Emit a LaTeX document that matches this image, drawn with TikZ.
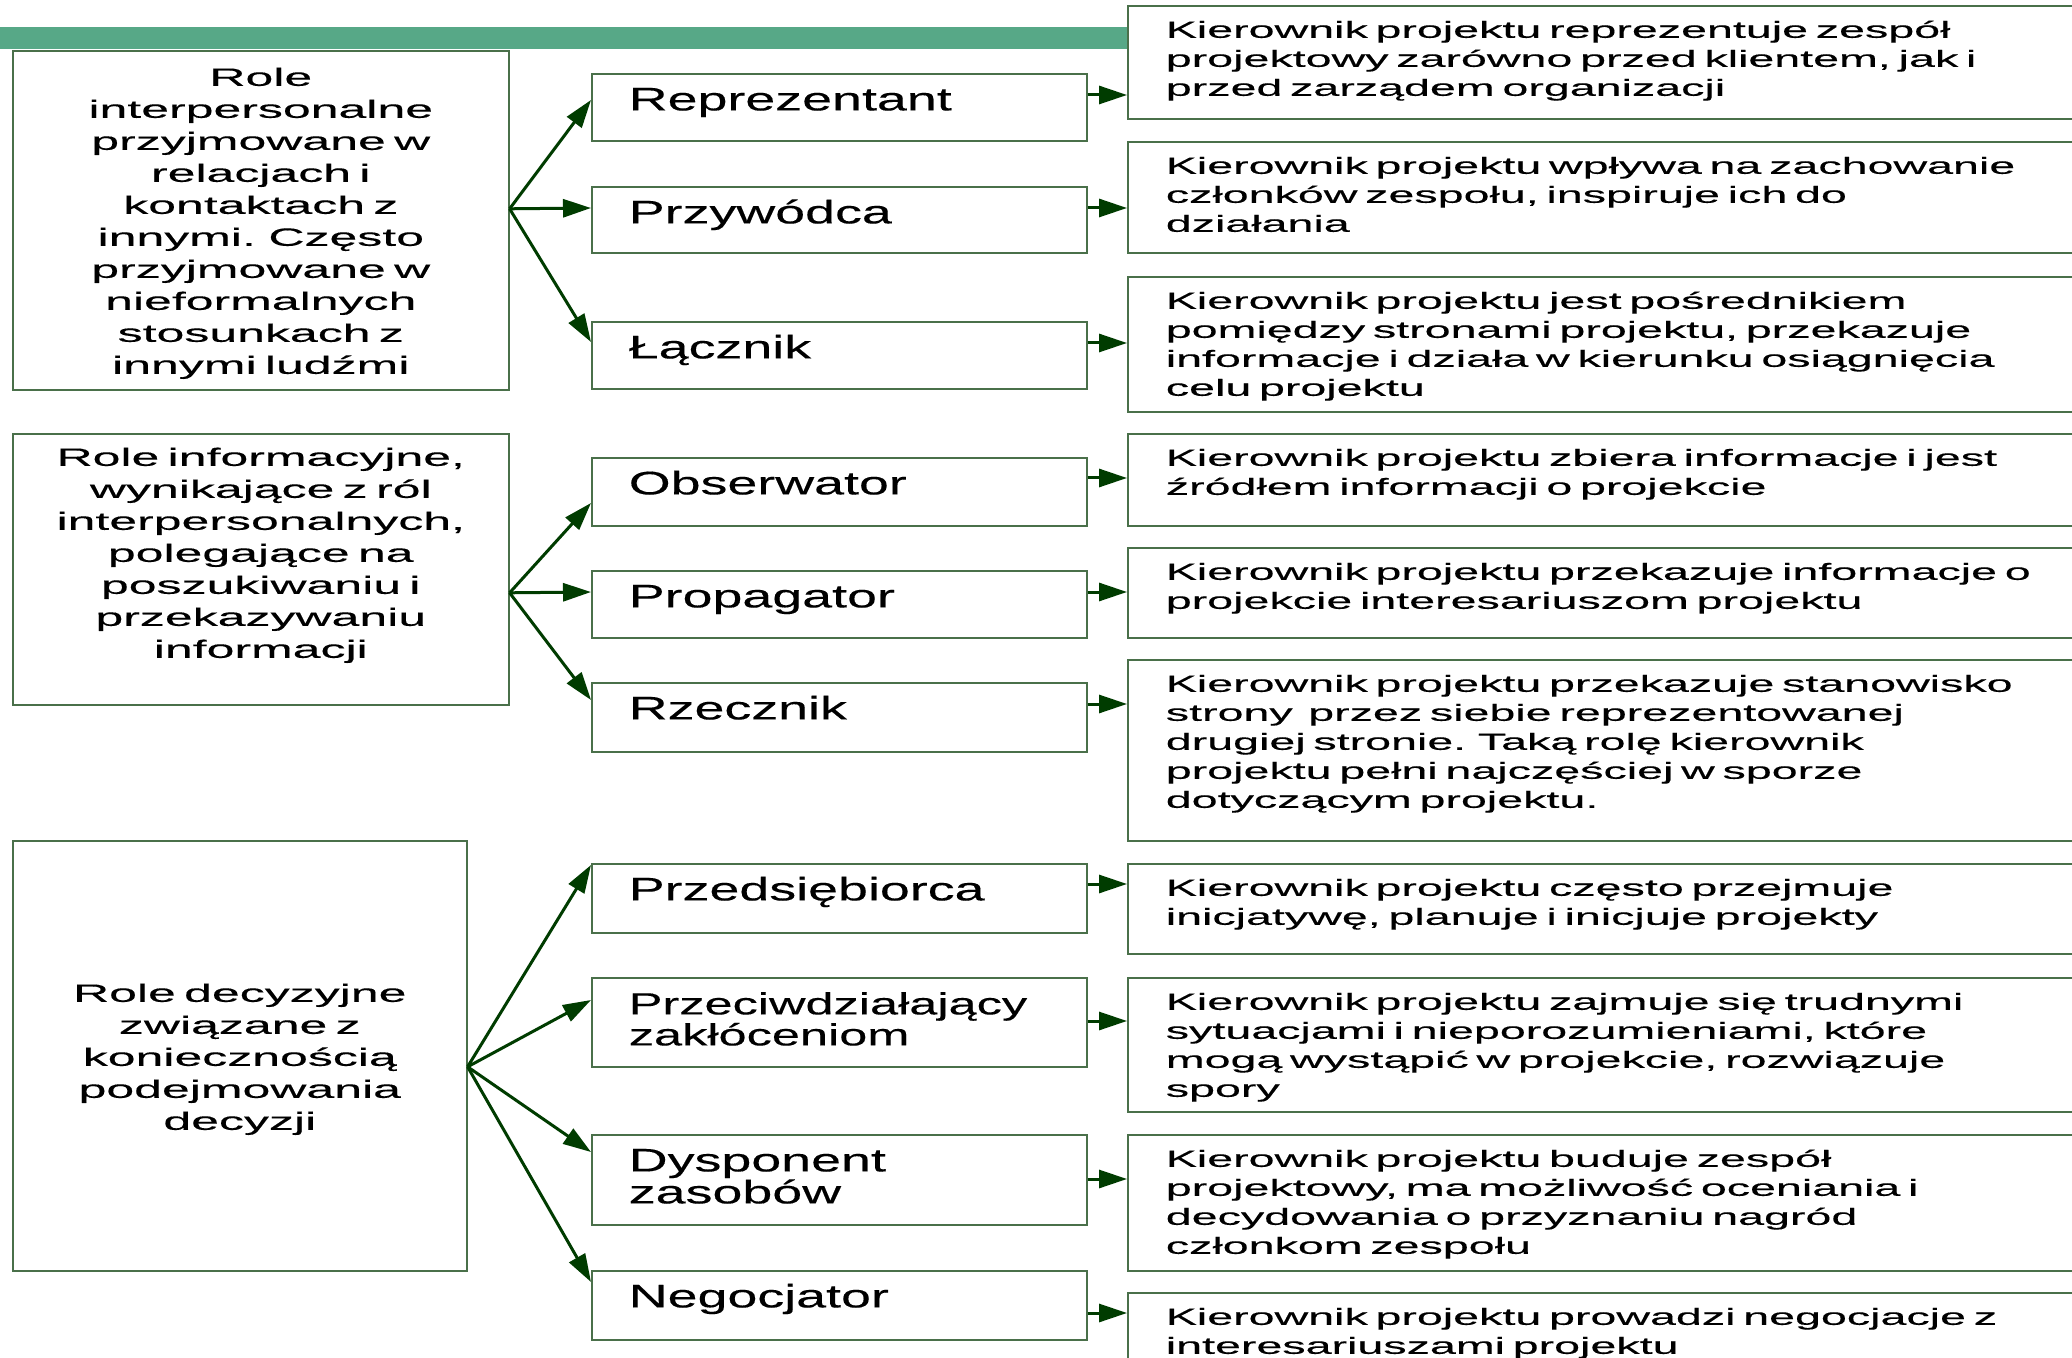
\documentclass[tikz,border=0pt]{standalone}
\usepackage{fontspec}
\setmainfont{Liberation Sans}
\newfontfamily\widefont{Liberation Sans}[FakeStretch=2.0,FakeBold=0.3]
\newfontfamily\midfont{Liberation Sans}[FakeStretch=1.65,FakeBold=0.3]
\usetikzlibrary{arrows.meta}
\definecolor{boxedge}{RGB}{74,112,74}
\definecolor{arrowgreen}{RGB}{0,60,0}
\definecolor{bargreen}{RGB}{87,168,135}
\hyphenpenalty=10000

\begin{document}
\begin{tikzpicture}[x=0.5pt,y=-0.5pt,
  rolebox/.style={draw=boxedge,line width=0.8pt,anchor=north west,align=center,
    inner xsep=5pt,inner ysep=0pt,font=\widefont\fontsize{12.5}{16}\selectfont},
  namebox/.style={draw=boxedge,line width=0.8pt,anchor=north west,align=left,
    inner xsep=18.5pt,inner ysep=0pt,text width=210.5pt,text height=18.3pt,
    font=\midfont\fontsize{16.3}{16}\selectfont},
  descbox/.style={draw=boxedge,line width=0.8pt,anchor=north west,align=left,
    inner xsep=19pt,inner ysep=0pt,text width=600pt,text height=16pt,
    font=\widefont\fontsize{11.65}{14.5}\selectfont},
  fan/.style={draw=arrowgreen,line width=1.5pt,-{Triangle[length=14pt,width=9pt]}},
  link/.style={fan}]
  % page, clipped at the right and bottom
  \useasboundingbox[fill=white] (0,0) rectangle (2072,1358);
  \clip (0,0) rectangle (2072,1358);
  % green bar at the top
  \fill[bargreen] (0,27) rectangle (1127,49);
  % groups of roles
  \node[rolebox,text width=238pt,text height=17.5pt,text depth=152pt] (l1) at (12,50)
    {Role\\interpersonalne\\przyjmowane w\\relacjach i\\kontaktach z\\innymi. Często\\przyjmowane w\\nieformalnych\\stosunkach z\\innymi ludźmi};
  \node[rolebox,text width=238pt,text height=16pt,text depth=119.5pt] (l2) at (12,433)
    {Role informacyjne,\\wynikające z ról\\interpersonalnych,\\polegające na\\poszukiwaniu i\\przekazywaniu\\informacji};
  \node[rolebox,text width=217pt,text height=80.5pt,text depth=134.5pt] (l3) at (12,840)
    {Role decyzyjne\\związane z\\koniecznością\\podejmowania\\decyzji};
  % roles
  \node[namebox,text depth=15.2pt] (m1) at (591,73) {Reprezentant};
  \node[namebox,text depth=14.7pt] (m2) at (591,186) {Przywódca};
  \node[namebox,text depth=15.2pt] (m3) at (591,321) {Łącznik};
  \node[namebox,text depth=15.7pt] (m4) at (591,457) {Obserwator};
  \node[namebox,text depth=15.2pt] (m5) at (591,570) {Propagator};
  \node[namebox,text depth=16.2pt] (m6) at (591,682) {Rzecznik};
  \node[namebox,text depth=16.2pt] (m7) at (591,863) {Przedsiębiorca};
  \node[namebox,text depth=26.2pt,font=\midfont\fontsize{15.3}{15.5}\selectfont] (m8) at (591,977) {Przeciwdziałający\\zakłóceniom};
  \node[namebox,text depth=26.7pt] (m9) at (591,1134) {Dysponent\\zasobów};
  \node[namebox,text depth=16.2pt] (m10) at (591,1270) {Negocjator};
  % descriptions
  \node[descbox,text depth=40.5pt] (r1) at (1127,5)
    {Kierownik projektu reprezentuje zespół\\projektowy zarówno przed klientem, jak i\\przed zarządem organizacji};
  \node[descbox,text depth=39.5pt] (r2) at (1127,141)
    {Kierownik projektu wpływa na zachowanie\\członków zespołu, inspiruje ich do\\działania};
  \node[descbox,text depth=51.5pt] (r3) at (1127,276)
    {Kierownik projektu jest pośrednikiem\\pomiędzy stronami projektu, przekazuje\\informacje i działa w kierunku osiągnięcia\\celu projektu};
  \node[descbox,text depth=30pt] (r4) at (1127,433)
    {Kierownik projektu zbiera informacje i jest\\źródłem informacji o projekcie};
  \node[descbox,text depth=29pt] (r5) at (1127,547)
    {Kierownik projektu przekazuje informacje o\\projekcie interesariuszom projektu};
  \node[descbox,text depth=74.5pt] (r6) at (1127,659)
    {Kierownik projektu przekazuje stanowisko\\strony\ \ przez siebie reprezentowanej\\drugiej stronie. Taką rolę kierownik\\projektu pełni najczęściej w sporze\\dotyczącym projektu.};
  \node[descbox,text depth=29pt] (r7) at (1127,863)
    {Kierownik projektu często przejmuje\\inicjatywę, planuje i inicjuje projekty};
  \node[descbox,text depth=51pt] (r8) at (1127,977)
    {Kierownik projektu zajmuje się trudnymi\\sytuacjami i nieporozumieniami, które\\mogą wystąpić w projekcie, rozwiązuje\\spory};
  \node[descbox,text depth=52pt] (r9) at (1127,1134)
    {Kierownik projektu buduje zespół\\projektowy, ma możliwość oceniania i\\decydowania o przyznaniu nagród\\członkom zespołu};
  \node[descbox,text depth=38pt] (r10) at (1127,1292)
    {Kierownik projektu prowadzi negocjacje z\\interesariuszami projektu};
  % fan out points
  \coordinate (o1) at ([yshift=5.75pt]l1.east);
  \coordinate (o2) at ([yshift=-11.75pt]l2.east);
  \coordinate (o3) at ([yshift=-5.5pt]l3.east);
  % arrows: group -> role -> description
  \foreach \o/\i/\a/\b in {o1/1/13.5pt/11pt, o1/2/11pt/11pt, o1/3/10.5pt/11pt,
      o2/4/23pt/10.5pt, o2/5/11pt/11pt, o2/6/9pt/11pt,
      o3/7/1pt/10.5pt, o3/8/11.5pt/22pt, o3/9/9pt/22.5pt, o3/10/6pt/21.5pt} {
    \draw[fan] (\o) -- ([yshift=-\a]m\i.north west);
    \draw[link] ([yshift=-\b]m\i.north east) -- ([yshift=-\b]m\i.north east -| r\i.west);
  }
\end{tikzpicture}
\end{document}
